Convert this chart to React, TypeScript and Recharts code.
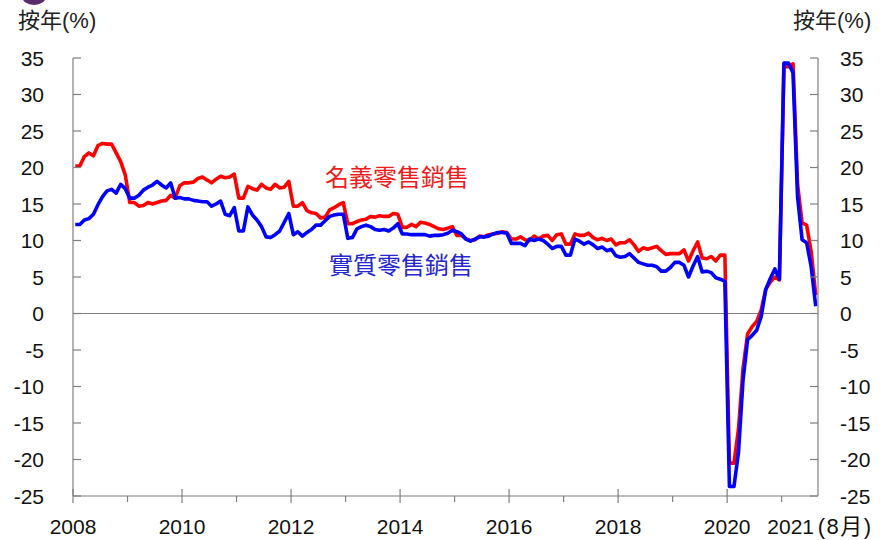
import { LineChart, Line, XAxis, YAxis, ReferenceLine } from 'recharts';

// 名義零售銷售 (nominal, yoy %), Jan 2008 – Aug 2021
const NOMINAL = [
  20.2, 20.2, 21.5, 22.0, 21.6, 23.0, 23.3, 23.2, 23.2, 22.0, 20.8, 19.0, // 2008
  15.2, 15.2, 14.7, 14.8, 15.2, 15.0, 15.2, 15.4, 15.5, 16.2, 15.8, 17.5, // 2009
  17.9, 17.9, 18.0, 18.5, 18.7, 18.3, 17.9, 18.4, 18.8, 18.6, 18.7, 19.1, // 2010
  15.8, 15.8, 17.4, 17.1, 16.9, 17.7, 17.2, 17.0, 17.7, 17.2, 17.3, 18.1, // 2011
  14.7, 14.7, 15.2, 14.1, 13.8, 13.7, 13.1, 13.2, 14.2, 14.5, 14.9, 15.2, // 2012
  12.3, 12.3, 12.6, 12.8, 12.9, 13.3, 13.2, 13.4, 13.3, 13.3, 13.7, 13.6, // 2013
  11.8, 11.8, 12.2, 11.9, 12.5, 12.4, 12.2, 11.9, 11.6, 11.5, 11.7, 11.9, // 2014
  10.7, 10.7, 10.2, 10.0, 10.1, 10.6, 10.5, 10.8, 10.9, 11.0, 11.2, 11.1, // 2015
  10.2, 10.2, 10.5, 10.1, 10.0, 10.6, 10.2, 10.6, 10.7, 10.0, 10.8, 10.9, // 2016
  9.5, 9.5, 10.9, 10.7, 10.7, 11.0, 10.4, 10.1, 10.3, 10.0, 10.2, 9.4, // 2017
  9.7, 9.7, 10.1, 9.4, 8.5, 9.0, 8.8, 9.0, 9.2, 8.6, 8.1, 8.2, // 2018
  8.2, 8.2, 8.7, 7.2, 8.6, 9.8, 7.6, 7.5, 7.8, 7.2, 8.0, 8.0, // 2019
  -20.5, -20.5, -15.8, -7.5, -2.8, -1.8, -1.1, 0.5, 3.3, 4.3, 5.0, 4.6, // 2020
  33.8, 33.8, 34.2, 17.7, 12.4, 12.1, 8.5, 2.5, // 2021
];

// 實質零售銷售 (real, yoy %)
const REAL = [
  12.2, 12.2, 12.8, 13.0, 13.6, 14.9, 16.0, 16.8, 17.0, 16.5, 17.7, 17.1,
  15.8, 15.8, 16.2, 16.9, 17.3, 17.6, 18.1, 17.6, 17.2, 17.9, 15.8, 15.9,
  15.7, 15.7, 15.5, 15.4, 15.3, 15.3, 14.7, 15.0, 15.4, 13.6, 13.4, 14.5,
  11.3, 11.3, 14.6, 13.5, 12.8, 11.9, 10.5, 10.4, 10.8, 11.3, 12.5, 13.7,
  10.8, 11.2, 10.6, 11.1, 11.5, 12.1, 12.1, 12.7, 13.3, 13.5, 13.6, 13.6,
  10.3, 10.4, 11.6, 11.9, 12.1, 11.9, 11.5, 11.4, 11.5, 11.3, 11.7, 12.3,
  10.9, 10.9, 10.8, 10.8, 10.8, 10.8, 10.6, 10.7, 10.7, 10.8, 11.0, 11.4,
  11.2, 10.9, 10.2, 9.9, 10.2, 10.5, 10.5, 10.6, 10.9, 11.1, 11.1, 11.0,
  9.6, 9.6, 9.6, 9.3, 10.2, 10.0, 10.2, 10.0, 9.5, 8.9, 9.2, 9.2,
  8.0, 8.0, 10.2, 9.9, 9.5, 9.8, 9.4, 8.9, 9.1, 8.6, 8.8, 7.9,
  7.7, 7.8, 8.2, 7.6, 7.0, 6.8, 6.6, 6.6, 6.4, 5.8, 5.8, 6.3,
  7.0, 7.0, 6.6, 5.0, 6.5, 7.8, 5.7, 5.8, 5.6, 4.9, 4.7, 4.4,
  -23.7, -23.7, -19.0, -9.1, -3.6, -3.0, -2.3, -0.4, 3.3, 4.8, 6.1, 4.7,
  34.3, 34.3, 33.0, 16.0, 10.1, 9.7, 6.4, 1.0,
];

const START_YEAR = 2008;
const YEARS = [2008, 2009, 2010, 2011, 2012, 2013, 2014, 2015, 2016, 2017, 2018, 2019, 2020, 2021];
const LABELLED_YEARS = [2008, 2010, 2012, 2014, 2016, 2018, 2020, 2021];
const Y_TICKS = [-25, -20, -15, -10, -5, 0, 5, 10, 15, 20, 25, 30, 35];

const X_TICKS = YEARS.map((y) => (y - START_YEAR) * 12);
const data = NOMINAL.map((v, i) => ({ t: i + 0.5, nominal: v, real: REAL[i] }));

const AXIS = '#7f7f7f';
const NUM_FONT = '"Liberation Sans", Arial, sans-serif';
const CJK_FONT = '"Liberation Sans", "Noto Sans CJK TC", sans-serif';

function XTick({ x, y, payload }: any) {
  const year = START_YEAR + Math.round(payload.value / 12);
  const major = year % 2 === 0;
  return (
    <g>
      <line x1={x} x2={x} y1={major ? y - 7 : y} y2={major ? y + 7 : y + 6} stroke={AXIS} strokeWidth={1.2} />
      {LABELLED_YEARS.includes(year) && (
        <text x={year === 2021 ? x + 9 : x} y={y + 38} textAnchor="middle" fontSize={21} fill="#111" fontFamily={NUM_FONT}>
          {year}
        </text>
      )}
      {year === 2021 && (
        <text x={x + 36} y={y + 38} textAnchor="start" fontSize={22} letterSpacing={1.5} fill="#111" fontFamily={CJK_FONT}>
          (8月)
        </text>
      )}
    </g>
  );
}

function LeftTick({ x, y, payload }: any) {
  return (
    <g>
      <line x1={x} x2={x + 8} y1={y} y2={y} stroke={AXIS} strokeWidth={1.2} />
      <text x={x - 29} y={y + 7.5} textAnchor="end" fontSize={21} fill="#111" fontFamily={NUM_FONT}>
        {payload.value}
      </text>
    </g>
  );
}

function RightTick({ x, y, payload }: any) {
  return (
    <g>
      <line x1={x} x2={x - 8} y1={y} y2={y} stroke={AXIS} strokeWidth={1.2} />
      <text x={x + 22} y={y + 7.5} textAnchor="start" fontSize={21} fill="#111" fontFamily={NUM_FONT}>
        {payload.value}
      </text>
    </g>
  );
}

export default function App() {
  return (
    <div style={{ position: 'absolute', left: 0, top: 0, width: 882, height: 540, background: '#fff', overflow: 'hidden' }}>
      <style>{'body{margin:0}'}</style>
      <div style={{ position: 'absolute', left: 22, top: -12, width: 24, height: 17, borderRadius: '50%', background: '#5a2a6e' }} />
      <LineChart width={882} height={540} data={data} margin={{ top: 58, right: 0, bottom: 0, left: 0 }}>
        <XAxis
          dataKey="t"
          type="number"
          domain={[0, 164]}
          ticks={X_TICKS}
          interval={0}
          height={44}
          tickSize={0}
          tickMargin={0}
          tickLine={false}
          axisLine={{ stroke: AXIS, strokeWidth: 1.2 }}
          tick={<XTick />}
          allowDataOverflow
        />
        <YAxis
          yAxisId="left"
          type="number"
          domain={[-25, 35]}
          ticks={Y_TICKS}
          interval={0}
          width={73}
          tickSize={0}
          tickMargin={0}
          tickLine={false}
          axisLine={{ stroke: AXIS, strokeWidth: 1.2 }}
          tick={<LeftTick />}
          allowDataOverflow
        />
        <YAxis
          yAxisId="right"
          orientation="right"
          type="number"
          domain={[-25, 35]}
          ticks={Y_TICKS}
          interval={0}
          width={64}
          tickSize={0}
          tickMargin={0}
          tickLine={false}
          axisLine={{ stroke: AXIS, strokeWidth: 1.2 }}
          tick={<RightTick />}
          allowDataOverflow
        />
        <ReferenceLine yAxisId="left" y={0} stroke={AXIS} strokeWidth={1} />
        <Line yAxisId="left" type="linear" dataKey="nominal" stroke="#ff0000" strokeWidth={3.6} dot={false} isAnimationActive={false} strokeLinejoin="round" />
        <Line yAxisId="left" type="linear" dataKey="real" stroke="#0000ff" strokeWidth={3.6} dot={false} isAnimationActive={false} strokeLinejoin="round" />
      </LineChart>
      <div style={{ position: 'absolute', left: 18, top: 10, fontSize: 22, lineHeight: 1, color: '#222', fontFamily: CJK_FONT, whiteSpace: 'nowrap' }}>按年(%)</div>
      <div style={{ position: 'absolute', left: 793, top: 10, fontSize: 22, lineHeight: 1, color: '#222', fontFamily: CJK_FONT, whiteSpace: 'nowrap' }}>按年(%)</div>
      <div style={{ position: 'absolute', left: 325, top: 164, fontSize: 24, lineHeight: 1, color: '#ee1c1c', fontFamily: '"Noto Sans CJK TC", sans-serif', whiteSpace: 'nowrap' }}>名義零售銷售</div>
      <div style={{ position: 'absolute', left: 329, top: 252, fontSize: 24, lineHeight: 1, color: '#2626d0', fontFamily: '"Noto Sans CJK TC", sans-serif', whiteSpace: 'nowrap' }}>實質零售銷售</div>
    </div>
  );
}
